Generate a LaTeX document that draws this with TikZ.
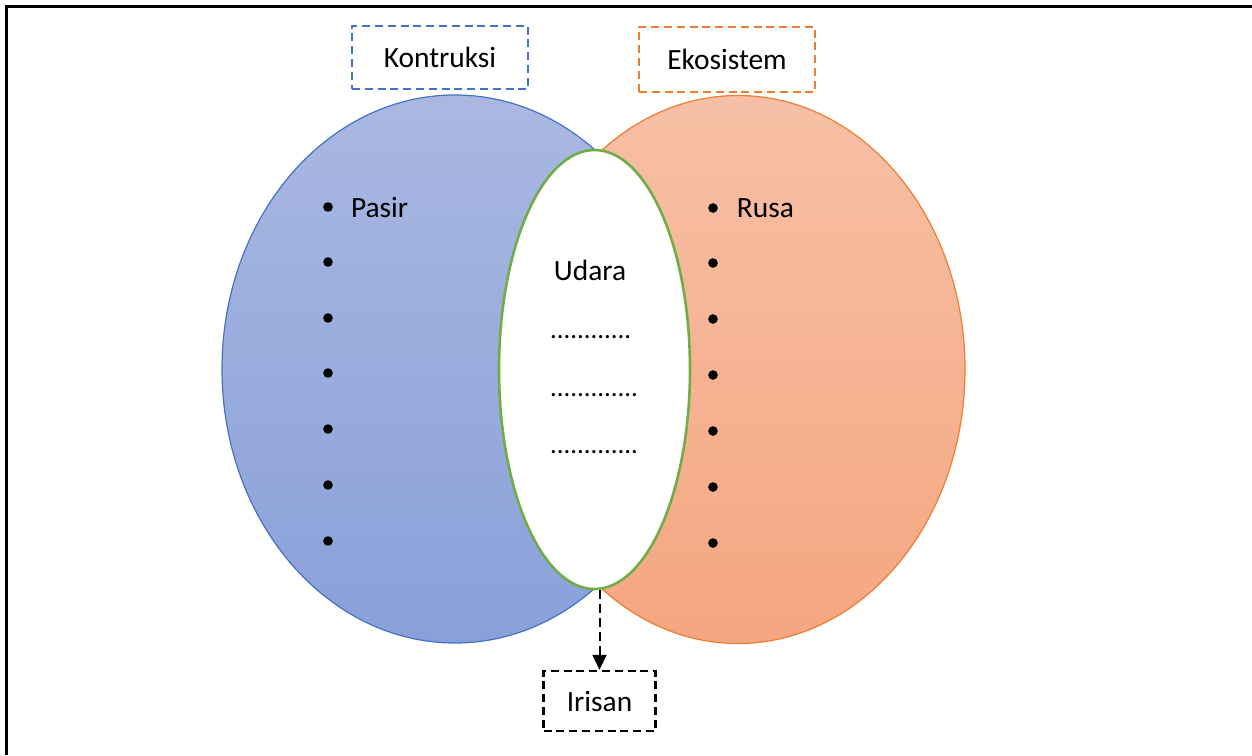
\documentclass[tikz,border=0pt]{standalone}
\usepackage{fontspec}
\setmainfont{Carlito}
\usetikzlibrary{shapes.geometric,arrows.meta,positioning}
\definecolor{setblue}{HTML}{4472C4}
\definecolor{setorange}{HTML}{ED7D31}
\definecolor{setgreen}{HTML}{70AD47}
\definecolor{bluetop}{RGB}{170,184,225}
\definecolor{bluebot}{RGB}{137,160,217}
\definecolor{orangetop}{RGB}{247,192,166}
\definecolor{orangebot}{RGB}{245,166,128}
\tikzset{
  label text/.style={font=\fontsize{14.7}{17}\selectfont},
  dots text/.style={font=\fontsize{13.4}{17}\selectfont,anchor=west},
  set title/.style={label text,draw,line width=1.2pt,dash pattern=on 4pt off 2.4pt,
    minimum width=88pt,minimum height=31.5pt,inner sep=0pt},
  set shape/.style={ellipse,inner sep=0pt,line width=0.6pt},
  bullet dot/.style={circle,fill=black,inner sep=0pt,minimum size=4.8pt},
}
\begin{document}
\begin{tikzpicture}[x=0.5pt,y=-0.5pt]
\useasboundingbox (0,0) rectangle (1252,755);
% Drawing frame
\draw[line width=1.2pt] (6.5,755) -- (6.5,6.5) -- (1252,6.5);
% Drawing sets
\node[set shape,draw=setblue,top color=bluetop,bottom color=bluebot,
  minimum width=233pt,minimum height=274pt] (kontruksi set) at (455,369) {};
\node[set shape,draw=setorange,top color=orangetop,bottom color=orangebot,
  minimum width=227pt,minimum height=274pt] (ekosistem set) at (738,369.5) {};
\node[set shape,draw=setgreen,fill=white,line width=1.3pt,
  minimum width=95.5pt,minimum height=219.5pt] (irisan set) at (594.5,369.5) {};
% Drawing titles
\node[set title,draw=setblue] (kontruksi) at (440,57.5) {Kontruksi};
\node[set title,draw=setorange,minimum height=32.5pt] (ekosistem) at (727,59.5) {Ekosistem};
\node[set title,draw=black,minimum width=56pt,minimum height=30pt] (irisan) at (599.5,701) {Irisan};
% Drawing bullets
\foreach \i/\yy in {1/207,2/262,3/318,4/373,5/429,6/485,7/541}
  \node[bullet dot] (left\i) at (328,\yy) {};
\foreach \i/\yy in {1/208,2/263,3/319,4/375,5/431,6/487,7/543}
  \node[bullet dot] (right\i) at (713,\yy) {};
\node[label text,right=5.4pt of left1] (pasir) {Pasir};
\node[label text,right=5.8pt of right1] (rusa) {Rusa};
% Drawing intersection
\node[label text] (udara) at (590,270) {Udara};
\node[dots text] (dots1) at (543,337) {............};
\node[dots text] (dots2) at (543,395) {.............};
\node[dots text] (dots3) at (543,452) {.............};
% Drawing arrow
\draw[line width=1pt,dash pattern=on 4.5pt off 2.5pt,-{Triangle[width=7pt,length=7.5pt]}]
  (irisan set.south -| irisan.north) -- (irisan.north);
\end{tikzpicture}
\end{document}
